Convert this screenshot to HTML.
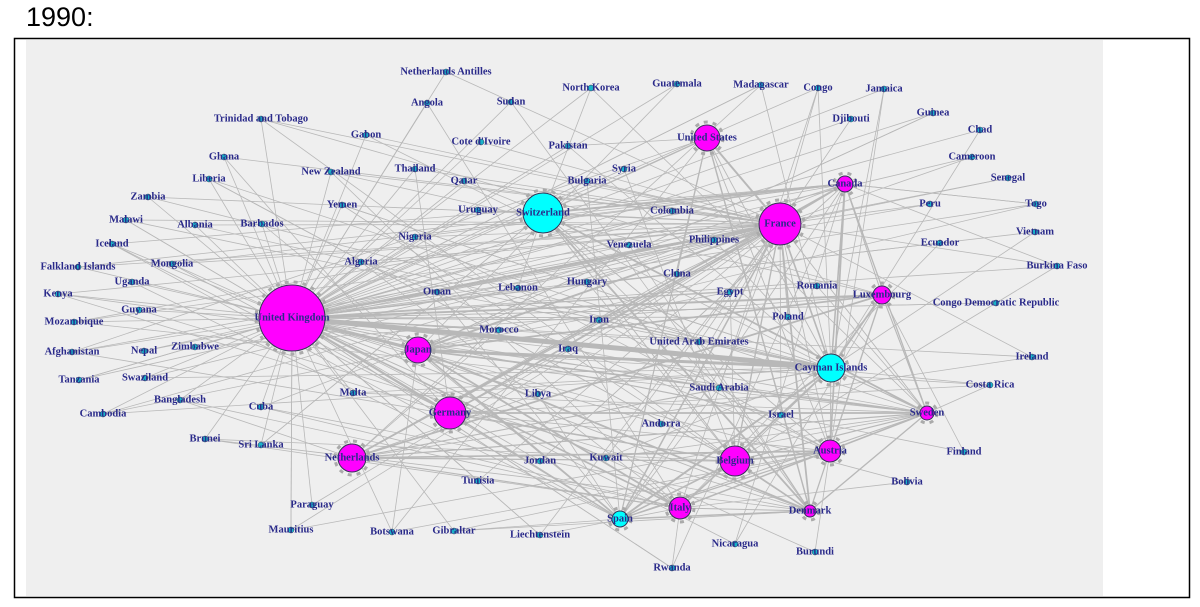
<!DOCTYPE html>
<html><head><meta charset="utf-8">
<style>
html,body{margin:0;padding:0;background:#fff;width:1200px;height:607px;overflow:hidden}
#t{position:absolute;left:26px;top:2px;font-family:"Liberation Sans",sans-serif;font-size:27px;color:#000}
svg{position:absolute;left:0;top:0}
text{font-family:"Liberation Serif",serif;font-weight:bold;font-size:10.5px;fill:#2a2a8a;text-anchor:middle;dominant-baseline:middle}
</style></head><body>
<div id="t">1990:</div>
<svg id="s" width="1200" height="607" viewBox="0 0 1200 607">
<rect x="14.5" y="38.5" width="1175" height="559" fill="#fff" stroke="#000" stroke-width="1.5"/>
<rect x="26" y="40" width="1077" height="556" fill="#efefef"/>
<g id="e" stroke="#b8b8b8" fill="none"></g>
<g id="n"></g>
</svg>
<script>
var hubs=[["United Kingdom",292,318,33,"#f0f"],["France",780,224,21,"#f0f"],["United States",707,138,13,"#f0f"],["Canada",845,184,8,"#f0f"],["Luxembourg",882,295,9,"#f0f"],["Japan",418,350,13,"#f0f"],["Germany",450,413,16,"#f0f"],["Netherlands",352,458,14,"#f0f"],["Belgium",735,461,15,"#f0f"],["Austria",830,451,11,"#f0f"],["Sweden",927,413,7,"#f0f"],["Italy",680,508,11,"#f0f"],["Denmark",810,511,6,"#f0f"],["Switzerland",543,213,20,"#0ff"],["Cayman Islands",831,368,14,"#0ff"],["Spain",620,519,8,"#0ff"]];
var sm=[["Netherlands Antilles",446,72],["Angola",427,103],["Sudan",511,102],["North Korea",591,88],["Guatemala",677,84],["Madagascar",761,85],["Congo",818,88],["Jamaica",884,89],["Guinea",933,113],["Djibouti",851,119],["Chad",980,130],["Trinidad and Tobago",261,119],["Gabon",366,135],["Cote d'Ivoire",481,142],["Pakistan",568,146],["Ghana",224,157],["Syria",624,169],["Cameroon",972,157],["Liberia",209,179],["New Zealand",331,172],["Thailand",415,169],["Qatar",464,181],["Bulgaria",587,181],["Senegal",1008,178],["Zambia",148,197],["Yemen",342,205],["Uruguay",478,210],["Colombia",672,211],["Peru",930,204],["Togo",1036,204],["Malawi",126,220],["Albania",195,225],["Barbados",262,224],["Nigeria",415,237],["Venezuela",629,245],["Philippines",714,240],["Ecuador",940,243],["Vietnam",1035,232],["Iceland",112,244],["Mongolia",172,264],["Algeria",361,262],["Falkland Islands",78,267],["Uganda",132,282],["Lebanon",518,288],["Hungary",587,282],["China",677,274],["Romania",817,286],["Egypt",730,292],["Burkina Faso",1057,266],["Kenya",58,294],["Guyana",139,310],["Oman",437,292],["Iran",599,320],["Poland",788,317],["Congo Democratic Republic",996,303],["Mozambique",74,322],["Morocco",499,330],["Iraq",568,349],["United Arab Emirates",699,342],["Afghanistan",72,352],["Nepal",144,351],["Zimbabwe",195,347],["Ireland",1032,357],["Tanzania",79,380],["Swaziland",145,378],["Saudi Arabia",719,388],["Costa Rica",990,385],["Bangladesh",180,400],["Malta",353,393],["Libya",538,394],["Cambodia",103,414],["Cuba",261,407],["Israel",781,415],["Brunei",205,439],["Sri Lanka",261,445],["Andorra",661,424],["Jordan",540,461],["Kuwait",606,458],["Finland",964,452],["Tunisia",478,481],["Bolivia",907,482],["Paraguay",312,505],["Mauritius",291,530],["Botswana",392,532],["Gibraltar",454,531],["Liechtenstein",540,535],["Nicaragua",735,544],["Burundi",815,552],["Rwanda",672,568]];
var seed=7;function r(){seed=(seed*16807)%2147483647;return seed/2147483647;}
var NS="http://www.w3.org/2000/svg",E=document.getElementById("e"),N=document.getElementById("n");
function ln(a,b,c,d,w){var l=document.createElementNS(NS,"line");l.setAttribute("x1",a);l.setAttribute("y1",b);l.setAttribute("x2",c);l.setAttribute("y2",d);l.setAttribute("stroke-width",w);E.appendChild(l);}
sm.forEach(function(s){var k=2+Math.floor(r()*3);for(var i=0;i<k;i++){var h=hubs[i==0?0:Math.floor(r()*hubs.length)];if(i==1&&r()<.5)h=hubs[1];ln(s[1],s[2],h[1],h[2],0.8);}});
for(var i=0;i<hubs.length;i++)for(var j=i+1;j<hubs.length;j++){if(r()<.6)ln(hubs[i][1],hubs[i][2],hubs[j][1],hubs[j][2],0.8+r()*1.2);}
ln(292,318,831,368,5);ln(418,350,831,368,3);ln(292,318,418,350,3);ln(292,318,780,224,2);ln(418,350,780,224,2);
hubs.forEach(function(h){var c=document.createElementNS(NS,"circle");c.setAttribute("cx",h[1]);c.setAttribute("cy",h[2]);c.setAttribute("r",h[3]+3);c.setAttribute("fill","none");c.setAttribute("stroke","#aaa");c.setAttribute("stroke-width","3");c.setAttribute("stroke-dasharray","4 5");N.appendChild(c);});
function add(name,x,y,rad,col){var c=document.createElementNS(NS,"circle");c.setAttribute("cx",x);c.setAttribute("cy",y);c.setAttribute("r",rad);c.setAttribute("fill",col);c.setAttribute("stroke","#335");c.setAttribute("stroke-width",rad>5?1:0.5);N.appendChild(c);var t=document.createElementNS(NS,"text");t.setAttribute("x",x);t.setAttribute("y",y);t.textContent=name;N.appendChild(t);}
sm.forEach(function(s){add(s[0],s[1],s[2],3,"#19b3c8");});
hubs.forEach(function(h){add(h[0],h[1],h[2],h[3],h[4]);});
</script>
</body></html>
